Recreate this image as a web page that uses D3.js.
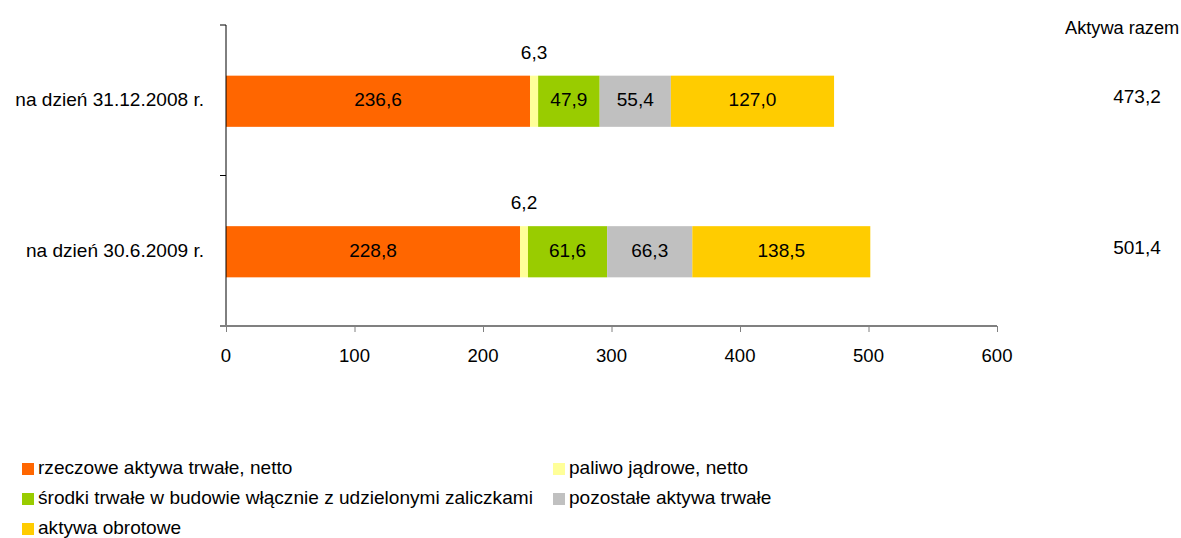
<!DOCTYPE html>
<html>
<head>
<meta charset="utf-8">
<script src="https://cdn.jsdelivr.net/npm/d3@7"></script>
<style>
  body { margin: 0; background: #fff; }
  svg text { font-family: "Liberation Sans", Arial, sans-serif; fill: #000; }
</style>
</head>
<body>
<svg id="chart" width="1181" height="538"></svg>
<script>
const categories = ["na dzień 31.12.2008 r.", "na dzień 30.6.2009 r."];
const seriesNames = [
  "rzeczowe aktywa trwałe, netto",
  "paliwo jądrowe, netto",
  "środki trwałe w budowie włącznie z udzielonymi zaliczkami",
  "pozostałe aktywa trwałe",
  "aktywa obrotowe"
];
const seriesColors = ["#ff6600", "#ffff99", "#99cc00", "#c0c0c0", "#ffcc00"];
const values2008 = [236.6, 6.3, 47.9, 55.4, 127.0];
const values2009 = [228.8, 6.2, 61.6, 66.3, 138.5];
const totals = [473.2, 501.4];
const xTicks = [0, 100, 200, 300, 400, 500, 600];

const fmt = v => d3.format(".1f")(v).replace(".", ",");

// tekst troche szerszy niz Arial, jak w oryginale
const SX = 1.09;
function label(parent, px, py, txt, anchor = "start", size = 17.5, sx = SX) {
  return parent.append("text")
    .attr("transform", `translate(${px},${py}) scale(${sx},1)`)
    .attr("text-anchor", anchor)
    .attr("font-size", size)
    .text(txt);
}

const svg = d3.select("#chart");
const x = d3.scaleLinear().domain([0, 600]).range([226, 997]);
const y = d3.scaleBand().domain(categories).range([26, 327]).paddingInner(0.66).paddingOuter(0.33);

const rows = [values2008, values2009];

// slupki
rows.forEach((vals, ri) => {
  const cat = categories[ri];
  const cy = y(cat) + y.bandwidth() / 2;
  let acc = 0;
  const segs = vals.map((v, i) => {
    const s = { i, v, x0: acc, x1: acc + v };
    acc += v;
    return s;
  });
  const g = svg.append("g");
  g.selectAll("rect").data(segs).join("rect")
    .attr("x", d => x(d.x0))
    .attr("y", y(cat))
    .attr("width", d => x(d.x1) - x(d.x0))
    .attr("height", y.bandwidth())
    .attr("fill", d => seriesColors[d.i]);
  segs.forEach(d => {
    label(g, (x(d.x0) + x(d.x1)) / 2, d.i === 1 ? y(cat) - 17 : cy + 5, fmt(d.v), "middle");
  });
  label(svg, 1137, cy + 2, fmt(totals[ri]), "middle");
});

label(svg, 1065, 34, "Aktywa razem", "start", 17.5, 1.04);

// os y
const ya = svg.append("g");
ya.append("line").attr("x1", 226).attr("x2", 226).attr("y1", 25).attr("y2", 326)
  .attr("stroke", "#000").attr("stroke-width", 1);
[25, 175.5, 326].forEach(t => {
  ya.append("line").attr("x1", 220).attr("x2", 226).attr("y1", t).attr("y2", t)
    .attr("stroke", "#000");
});
categories.forEach(c => {
  label(ya, 204, y(c) + y.bandwidth() / 2 + 5, c, "end", 18, 1.06);
});

// os x
const xa = svg.append("g").attr("transform", "translate(0,326)")
  .call(d3.axisBottom(x).tickValues(xTicks).tickSize(6).tickFormat(""));
xa.select(".domain").attr("stroke", "#808080").attr("stroke-width", 2).attr("d", "M220,0H997");
xa.selectAll(".tick line").attr("stroke", "#808080");
xTicks.forEach(t => label(svg, x(t), 362, String(t), "middle", 17.5, 1.06));

// legenda
const legendPos = [[22, 474], [553, 474], [22, 504], [553, 504], [22, 534]];
const lg = svg.append("g");
seriesNames.forEach((n, i) => {
  const [lx, ly] = legendPos[i];
  lg.append("rect").attr("x", lx).attr("y", ly - 11).attr("width", 12).attr("height", 12)
    .attr("fill", seriesColors[i]);
  label(lg, lx + 16, ly, n, "start", 17.5, 1.09);
});
</script>
</body>
</html>
